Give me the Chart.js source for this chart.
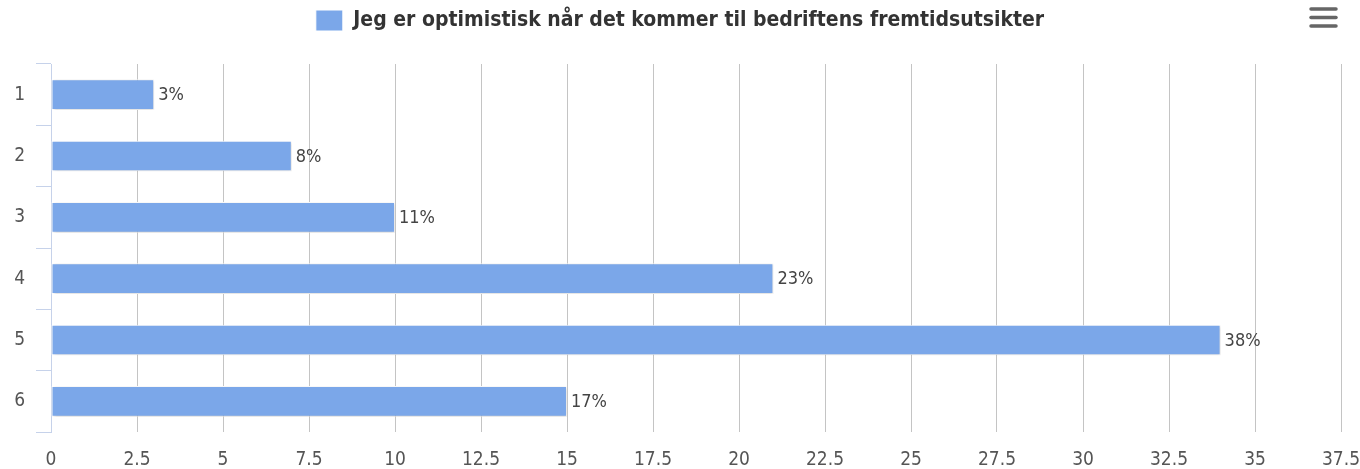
<!DOCTYPE html>
<html>
<head>
<meta charset="utf-8">
<script src="https://cdn.jsdelivr.net/npm/chart.js@4.4.1/dist/chart.umd.min.js"></script>
<style>
  html, body { margin: 0; padding: 0; background: #fff; }
  #wrap { width: 1360px; height: 469px; position: relative; }
</style>
</head>
<body>
<div id="wrap"><canvas id="myChart"></canvas></div>
<script>
// data
var categories = ["1", "2", "3", "4", "5", "6"];
var values = [3, 7, 10, 21, 34, 15];
var pctLabels = ["3%", "8%", "11%", "23%", "38%", "17%"];
var seriesName = "Jeg er optimistisk når det kommer til bedriftens fremtidsutsikter";
var xMax = 37.5;
var xStep = 2.5;

var fontFam = "'DejaVu Sans Condensed', 'DejaVu Sans', sans-serif";

// extra room between legend and plot
var legendGap = {
  id: "legendGap",
  afterInit: function(chart) {
    var lg = chart.legend;
    if (!lg) return;
    var fit = lg.fit;
    lg.fit = function() {
      fit.call(this);
      this.height += 23;
    };
  }
};

// soft shadow under the bars
var barShadow = {
  id: "barShadow",
  beforeDatasetsDraw: function(chart) {
    var ctx = chart.ctx;
    ctx.save();
    ctx.shadowColor = "rgba(0,0,0,0.18)";
    ctx.shadowBlur = 3;
    ctx.shadowOffsetX = 1;
    ctx.shadowOffsetY = 1;
  },
  afterDatasetsDraw: function(chart) {
    chart.ctx.restore();
  }
};

// percent labels at the end of each bar
var endLabels = {
  id: "endLabels",
  afterDatasetsDraw: function(chart) {
    var ctx = chart.ctx;
    var meta = chart.getDatasetMeta(0);
    ctx.save();
    ctx.font = "18px " + fontFam;
    ctx.fillStyle = "#444";
    ctx.textAlign = "left";
    ctx.textBaseline = "middle";
    meta.data.forEach(function(bar, i) {
      ctx.fillText(pctLabels[i], bar.x + 4, bar.y + 1);
    });
    ctx.restore();
  }
};

// menu icon top right
var menuIcon = {
  id: "menuIcon",
  afterDraw: function(chart) {
    var ctx = chart.ctx;
    ctx.save();
    ctx.strokeStyle = "#666";
    ctx.lineWidth = 3.5;
    ctx.lineCap = "round";
    [9, 17.5, 26].forEach(function(y) {
      ctx.beginPath();
      ctx.moveTo(1311, y);
      ctx.lineTo(1336, y);
      ctx.stroke();
    });
    ctx.restore();
  }
};

new Chart("myChart", {
  type: "bar",
  data: {
    labels: categories,
    datasets: [{
      label: seriesName,
      data: values,
      backgroundColor: "#7ba7e9",
      borderColor: "#ffffff",
      borderWidth: 1,
      borderSkipped: false,
      barPercentage: 0.5,
      categoryPercentage: 1
    }]
  },
  plugins: [legendGap, barShadow, endLabels, menuIcon],
  options: {
    indexAxis: "y",
    responsive: true,
    maintainAspectRatio: false,
    animation: false,
    layout: { padding: { left: 0, right: 0, top: 0, bottom: 0 } },
    plugins: {
      tooltip: { enabled: false },
      legend: {
        display: true,
        position: "top",
        labels: {
          boxWidth: 27,
          boxHeight: 21,
          padding: 10,
          color: "#333",
          font: { family: fontFam, size: 21, weight: "bold" }
        }
      }
    },
    scales: {
      x: {
        min: 0,
        max: xMax,
        ticks: {
          stepSize: xStep,
          padding: 17,
          color: "#555",
          font: { family: fontFam, size: 19 }
        },
        grid: { color: "#c4c4c4", lineWidth: 1, drawTicks: false },
        border: { display: false },
        afterFit: function(scale) {
          scale.height = 37;
          scale.paddingRight = 19;
        }
      },
      y: {
        offset: true,
        ticks: {
          padding: 11,
          color: "#555",
          font: { family: fontFam, size: 19 }
        },
        grid: {
          offset: true,
          drawOnChartArea: false,
          drawTicks: true,
          tickLength: 15,
          color: "#c6d2ea"
        },
        border: { display: true, color: "#c6d2ea", width: 1 },
        afterFit: function(scale) { scale.width = 51; }
      }
    }
  }
});
</script>
</body>
</html>
